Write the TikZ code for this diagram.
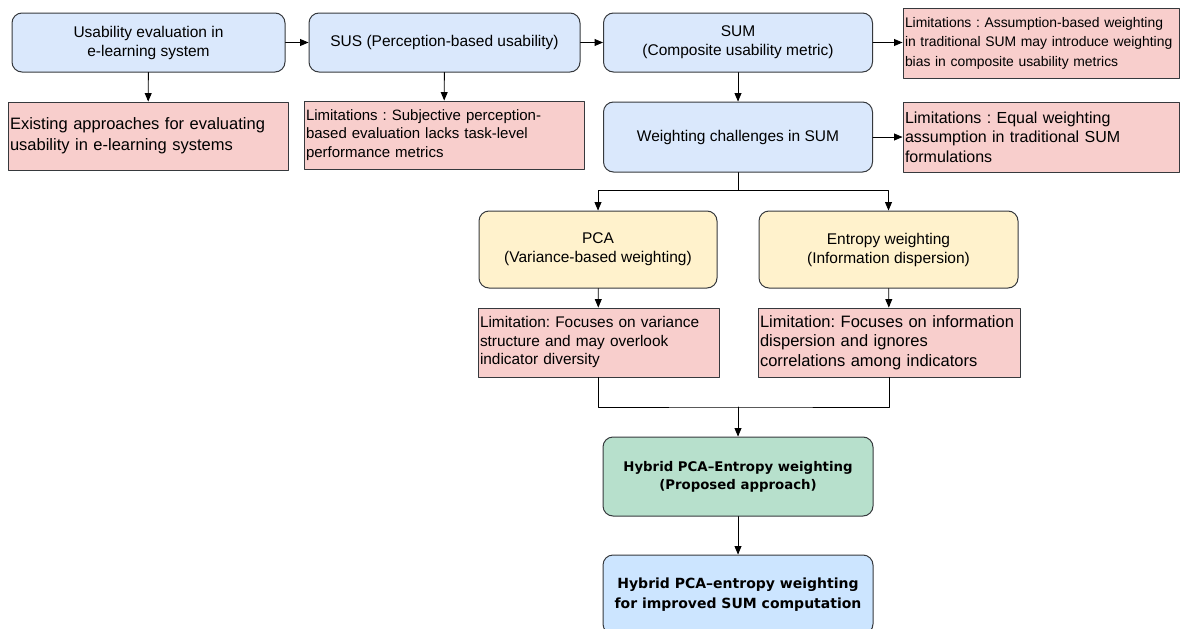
\documentclass[tikz,border=0pt]{standalone}
\usepackage{fontspec}
\setmainfont{Liberation Sans}
\newfontfamily\boldfont{DejaVu Sans}
\usepackage{tikz}
\usepackage{color}
\usetikzlibrary{arrows}
\definecolor{edgegray}{HTML}{36393D}
\definecolor{blufill}{HTML}{DAE8FC}
\definecolor{limfill}{HTML}{F8CECC}
\definecolor{ylwfill}{HTML}{FFF2CC}
\definecolor{grnfill}{HTML}{B7E0CC}
\definecolor{endfill}{HTML}{CCE5FF}
\frenchspacing
\hyphenpenalty=10000
\exhyphenpenalty=10000
\begin{document}
\begin{tikzpicture}[x=1pt,y=-1pt,line cap=round,line join=round,>=triangle 45,
    blubox/.style={draw=edgegray,line width=1pt,fill=blufill,rounded corners=10pt,align=center,inner sep=0pt,font=\fontsize{15.5}{19}\selectfont},
    ylwbox/.style={blubox,fill=ylwfill},
    hybbox/.style={blubox,font={\boldfont\bfseries\fontsize{13.3}{18}\selectfont}},
    limbox/.style={draw=edgegray,line width=1pt,fill=limfill,align=left,inner xsep=2pt,inner ysep=0pt},
    boxsize/.style 2 args={minimum width=#1,minimum height=#2},
    flow/.style={->,line width=0.9pt,color=black}]
        \useasboundingbox (0,0) rectangle (1181,629);
        \clip (0,0) rectangle (1181,629);
        % top row
        \node[blubox,boxsize={273pt}{59pt}] (use) at (148.5,42.5) {Usability evaluation in\\e-learning system};
        \node[blubox,boxsize={271pt}{59pt}] (sus) at (444.5,42.5) {SUS (Perception-based usability)};
        \node[blubox,boxsize={269pt}{59pt}] (sum) at (738,42.5) {SUM\\(Composite usability metric)};
        \node[limbox,text width=272pt,minimum height=70pt,font=\fontsize{13.9}{19.5}\selectfont] (biaslim) at (1041,43) {Limitations : Assumption-based weighting\\in traditional SUM may introduce weighting\\bias in composite usability metrics};
        % second row
        \node[limbox,text width=276pt,minimum height=68pt,font=\fontsize{16.5}{21}\selectfont] (exist) at (148,136) {Existing approaches for evaluating\\usability in e-learning systems};
        \node[limbox,text width=276pt,minimum height=68pt,font=\fontsize{15}{18.5}\selectfont] (suslim) at (444,135) {Limitations : Subjective perception-\\based evaluation lacks task-level\\performance metrics};
        \node[blubox,boxsize={269pt}{70pt}] (wgt) at (738,137) {Weighting challenges in SUM};
        \node[limbox,text width=272pt,minimum height=70pt,font=\fontsize{16}{19.5}\selectfont] (eqlim) at (1041,137) {Limitations : Equal weighting\\assumption in traditional SUM\\formulations};
        % weighting methods
        \node[ylwbox,boxsize={238pt}{77pt}] (pca) at (598,249.5) {PCA\\(Variance-based weighting)};
        \node[ylwbox,boxsize={259pt}{77pt}] (ent) at (888.5,249.5) {Entropy weighting\\(Information dispersion)};
        \node[limbox,text width=237pt,minimum height=69pt,font=\fontsize{15.4}{18.5}\selectfont] (pcalim) at (598.5,342.5) {Limitation: Focuses on variance\\structure and may overlook\\indicator diversity};
        \node[limbox,text width=258pt,minimum height=69pt,font=\fontsize{16.5}{19.5}\selectfont] (entlim) at (889,342.5) {Limitation: Focuses on information\\dispersion and ignores\\correlations among indicators};
        % proposed
        \node[hybbox,fill=grnfill,boxsize={270pt}{79pt}] (hyb) at (738,476.5) {Hybrid PCA–Entropy weighting\\(Proposed approach)};
        \node[hybbox,fill=endfill,boxsize={270pt}{79pt},font={\boldfont\bfseries\fontsize{14}{20}\selectfont}] (final) at (738,594.5) {Hybrid PCA–entropy weighting\\for improved SUM computation};
        \coordinate (split) at (738,190);
        \coordinate (merge) at (738,407);
        \draw[flow] (use) -- (sus);
        \draw[flow] (sus) -- (sum);
        \draw[flow] (sum.east) -- (sum.east -| biaslim.west);
        \draw[flow] (use) -- (exist);
        \draw[flow] (sus) -- (suslim);
        \draw[flow] (sum) -- (wgt);
        \draw[flow] (wgt) -- (eqlim);
        \draw[line width=0.9pt] (wgt.south) -- (split);
        \draw[flow] (split) -| (pca.north);
        \draw[flow] (split) -| (ent.north);
        \draw[flow] (pca) -- (pcalim);
        \draw[flow] (ent) -- (entlim);
        \draw[line width=0.9pt] (pcalim.south) |- (merge) -| (entlim.south);
        \draw[flow] (merge) -- (hyb.north);
        \draw[flow] (hyb) -- (final);
\end{tikzpicture}
\end{document}
